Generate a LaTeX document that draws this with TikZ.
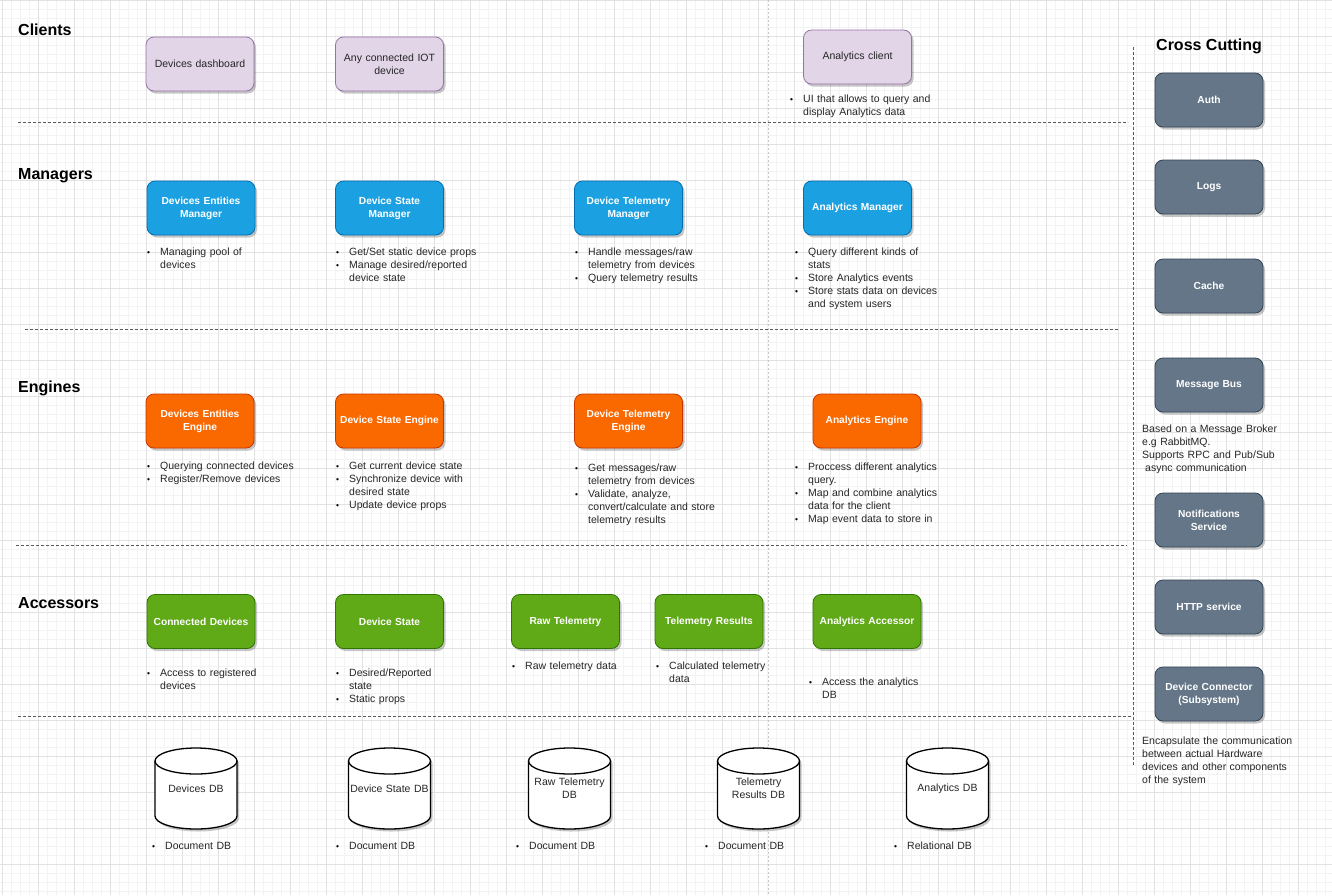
\documentclass[tikz,border=0pt]{standalone}
\usepackage{fontspec}
\setmainfont{Liberation Sans}
\usetikzlibrary{positioning, shadows, backgrounds, calc}

\definecolor{clientfill}{HTML}{E1D5E7}
\definecolor{clientdraw}{HTML}{9673A6}
\definecolor{mgrfill}{HTML}{1BA1E2}
\definecolor{mgrdraw}{HTML}{006EAF}
\definecolor{engfill}{HTML}{FA6800}
\definecolor{engdraw}{HTML}{C73500}
\definecolor{accfill}{HTML}{60A917}
\definecolor{accdraw}{HTML}{2D7600}
\definecolor{xcfill}{HTML}{647687}
\definecolor{xcdraw}{HTML}{314354}
\definecolor{gridmajor}{HTML}{E2E2E2}
\definecolor{gridminor}{HTML}{F3F3F3}

\newcommand{\notefont}{\fontsize{10.5}{13}\selectfont\lineskip=0pt}
\newcommand{\boxfont}{\fontsize{10.2}{13}\selectfont\bfseries}
\newcommand{\headfont}{\fontsize{16}{19}\selectfont\bfseries}
\newcommand{\nl}{\hfil\break}
% one bullet item: dot, then the text block beside it
\newcommand{\bpt}[1]{\noindent\strut
  \makebox[13pt][l]{\raisebox{0.3pt}{\scalebox{0.8}{\textcolor{black}{\textbullet}}}}%
  \parbox[t]{200pt}{\raggedright\strut #1\strut}\par}

\tikzset{
  shadowed/.style={drop shadow={shadow xshift=2pt, shadow yshift=-2.5pt,
                   opacity=0.22, fill=black}},
  layerbox/.style={rectangle, rounded corners=8pt, minimum width=108pt,
                   minimum height=54pt, text width=100pt, align=center,
                   inner sep=0pt, line width=0.8pt, shadowed,
                   font=\boxfont, text=white},
  clientbox/.style={layerbox, fill=clientfill, draw=clientdraw,
                    font=\notefont, text=black!85},
  mgrbox/.style={layerbox, fill=mgrfill, draw=mgrdraw},
  engbox/.style={layerbox, fill=engfill, draw=engdraw},
  accbox/.style={layerbox, fill=accfill, draw=accdraw},
  xcbox/.style={layerbox, fill=xcfill, draw=xcdraw},
  notetext/.style={anchor=north west, inner sep=0pt, text width=220pt,
                   align=left, font=\notefont, text=black!85},
  headtext/.style={anchor=base west, inner sep=0pt, font=\headfont, text=black},
  dbline/.style={draw=black, line width=1.3pt},
  dbtext/.style={inner sep=0pt, text width=90pt, align=center,
                 font=\notefont, text=black!85},
  sepline/.style={draw=black!65, line width=0.7pt, dash pattern=on 3pt off 2pt},
  pageline/.style={draw=black!22, line width=0.8pt, dash pattern=on 2pt off 2pt},
  minorline/.style={draw=gridminor, line width=0.8pt},
  majorline/.style={draw=gridmajor, line width=0.8pt},
}

% cylinder: name, x, y, label
\newcommand{\dbcyl}[4]{%
  \draw[dbline, fill=white, shadowed] (#2-41,#3-27.5) -- (#2-41,#3+27.5)
    arc[start angle=180, end angle=360, x radius=41pt, y radius=13pt]
    -- (#2+41,#3-27.5)
    arc[start angle=0, end angle=180, x radius=41pt, y radius=13pt] -- cycle;
  \draw[dbline] (#2-41,#3-27.5)
    arc[start angle=180, end angle=360, x radius=41pt, y radius=13pt];
  \node[dbtext] (#1) at (#2,#3) {#4};
}

\begin{document}
\begin{tikzpicture}[x=1pt, y=-1pt]
  \fill[white] (0,0) rectangle (1332,895);
  \useasboundingbox (0,0) rectangle (1332,895);

  % grid
  \foreach \gx in {2,11,...,1331} \draw[minorline] (\gx,0) -- (\gx,895);
  \foreach \gy in {0,9,...,895} \draw[minorline] (0,\gy) -- (1332,\gy);
  \foreach \gx in {2,38,...,1331} \draw[majorline] (\gx,0) -- (\gx,895);
  \foreach \gy in {0,36,...,895} \draw[majorline] (0,\gy) -- (1332,\gy);
  \draw[pageline] (768,0) -- (768,895);

  % layer separators
  \draw[sepline] (18,122) -- (1128,122);
  \draw[sepline] (25,329) -- (1119,329);
  \draw[sepline] (16,545) -- (1127,545);
  \draw[sepline] (18,716) -- (1132,716);
  \draw[sepline] (1133,47) -- (1133,765);

  % headers
  \node[headtext] (hclients) at (18,35.5) {Clients};
  \node[headtext] (hmanagers) at (18,179.3) {Managers};
  \node[headtext] (hengines) at (18,392.3) {Engines};
  \node[headtext] (haccessors) at (18,608.3) {Accessors};
  \node[headtext] (hcross) at (1156,50.3) {Cross Cutting};

  % clients
  \node[clientbox] (dash) at (200,64) {Devices dashboard};
  \node[clientbox] (iot) at (389.5,64) {Any connected IOT\\device};
  \node[clientbox] (aclient) at (857.5,57) {Analytics client};
  \node[notetext] (aclient-n) at (790,93.4)
    {\bpt{UI that allows to query and\nl display Analytics data}};

  % managers
  \node[mgrbox] (dem) at (201,208) {Devices Entities\\Manager};
  \node[mgrbox] (dsm) at (389.5,208) {Device State\\Manager};
  \node[mgrbox] (dtm) at (628.5,208) {Device Telemetry\\Manager};
  \node[mgrbox] (am) at (857.5,208) {Analytics Manager};
  \node[notetext] (dem-n) at (147,246.4) {\bpt{Managing pool of\nl devices}};
  \node[notetext] (dsm-n) at (336,246.4)
    {\bpt{Get/Set static device props}
     \bpt{Manage desired/reported\nl device state}};
  \node[notetext] (dtm-n) at (575,246.4)
    {\bpt{Handle messages/raw\nl telemetry from devices}
     \bpt{Query telemetry results}};
  \node[notetext] (am-n) at (795,246.4)
    {\bpt{Query different kinds of\nl stats}
     \bpt{Store Analytics events}
     \bpt{Store stats data on devices\nl and system users}};

  % engines
  \node[engbox] (dee) at (200,421) {Devices Entities\\Engine};
  \node[engbox] (dse) at (389.5,421) {Device State Engine};
  \node[engbox] (dte) at (628.5,421) {Device Telemetry\\Engine};
  \node[engbox] (ae) at (867,421) {Analytics Engine};
  \node[notetext] (dee-n) at (147,460.4)
    {\bpt{Querying connected devices}
     \bpt{Register/Remove devices}};
  \node[notetext] (dse-n) at (336,460.4)
    {\bpt{Get current device state}
     \bpt{Synchronize device with\nl desired state}
     \bpt{Update device props}};
  \node[notetext] (dte-n) at (575,462)
    {\bpt{Get messages/raw\nl telemetry from devices}
     \bpt{Validate, analyze,\nl convert/calculate and store\nl telemetry results}};
  \node[notetext] (ae-n) at (795,461.2)
    {\bpt{Proccess different analytics\nl query.}
     \bpt{Map and combine analytics\nl data for the client}
     \bpt{Map event data to store in}};

  % accessors
  \node[accbox] (cd) at (201,621.5) {Connected Devices};
  \node[accbox] (ds) at (389.5,621.5) {Device State};
  \node[accbox] (rt) at (565.5,621.5) {Raw Telemetry};
  \node[accbox] (tr) at (709,621.5) {Telemetry Results};
  \node[accbox] (aa) at (867,621.5) {Analytics Accessor};
  \node[notetext] (cd-n) at (147,667.4) {\bpt{Access to registered\nl devices}};
  \node[notetext] (ds-n) at (336,667.4)
    {\bpt{Desired/Reported\nl state}
     \bpt{Static props}};
  \node[notetext] (rt-n) at (512,660.4) {\bpt{Raw telemetry data}};
  \node[notetext] (tr-n) at (656,660.4) {\bpt{Calculated telemetry\nl data}};
  \node[notetext] (aa-n) at (809,676.4) {\bpt{Access the analytics\nl DB}};

  % databases
  \dbcyl{devdb}{196}{788.5}{Devices DB}
  \dbcyl{statedb}{389.5}{788.5}{Device State DB}
  \dbcyl{rawdb}{569.5}{788.5}{Raw Telemetry\\DB}
  \dbcyl{resdb}{758.5}{788.5}{Telemetry\\Results DB}
  \dbcyl{anadb}{947.5}{788.5}{Analytics DB}
  \node[notetext] (devdb-n) at (152,840.4) {\bpt{Document DB}};
  \node[notetext] (statedb-n) at (336,840.4) {\bpt{Document DB}};
  \node[notetext] (rawdb-n) at (516,840.4) {\bpt{Document DB}};
  \node[notetext] (resdb-n) at (705,840.4) {\bpt{Document DB}};
  \node[notetext] (anadb-n) at (894,840.4) {\bpt{Relational DB}};

  % cross cutting
  \node[xcbox] (auth) at (1209,100) {Auth};
  \node[xcbox] (logs) at (1209,187) {Logs};
  \node[xcbox] (cache) at (1209,286) {Cache};
  \node[xcbox] (bus) at (1209,385) {Message Bus};
  \node[xcbox] (notif) at (1209,520) {Notifications\\Service};
  \node[xcbox] (http) at (1209,607) {HTTP service};
  \node[xcbox] (conn) at (1209,694) {Device Connector\\(Subsystem)};
  \node[notetext] (bus-n) at (1142,423.4)
    {\strut Based on a Message Broker\nl e.g RabbitMQ.\nl
     Supports RPC and Pub/Sub\nl \hspace*{3pt}async communication};
  \node[notetext] (conn-n) at (1142,735.4)
    {\strut Encapsulate the communication\nl between actual Hardware\nl
     devices and other components\nl of the system};
\end{tikzpicture}
\end{document}
